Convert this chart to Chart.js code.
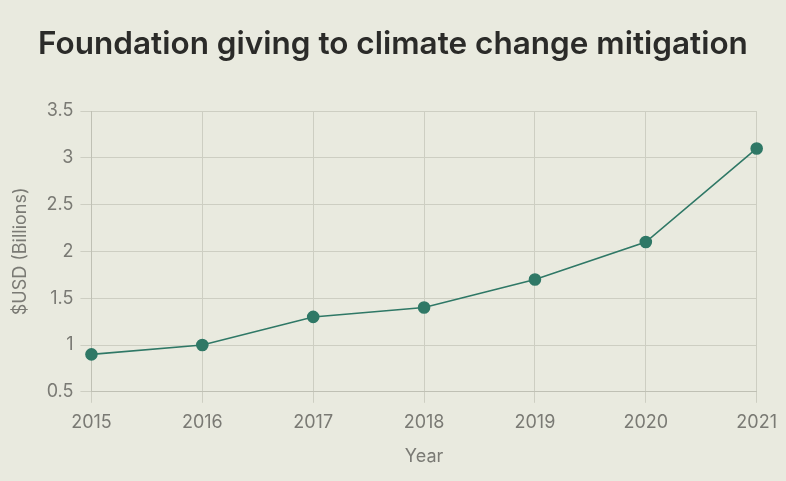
<!DOCTYPE html>
<html>
<head>
<meta charset="utf-8">
<script src="https://cdn.jsdelivr.net/npm/chart.js@4"></script>
<style>
  html, body { margin: 0; padding: 0; background: #e9eadf; }
  #wrap { position: relative; width: 786px; height: 481px; }
  #title {
    position: absolute; left: 0; top: 24px; width: 786px; margin: 0;
    text-align: center; font-family: 'Inter', sans-serif; font-weight: 600;
    font-size: 31.5px; line-height: 38px; color: #2b2b29;
  }
</style>
</head>
<body>
<div id="wrap">
  <h1 id="title">Foundation giving to climate change mitigation</h1>
  <canvas id="chart"></canvas>
</div>
<script>
// values
const years = ['2015', '2016', '2017', '2018', '2019', '2020', '2021'];
const giving = [0.9, 1.0, 1.3, 1.4, 1.7, 2.1, 3.1];
const yTicks = [0.5, 1, 1.5, 2, 2.5, 3, 3.5];

const green = '#2f7866';
const gridColor = '#cdcec2';
const tickColor = '#7a7a74';
const axisFont = { family: 'Inter', size: 18 };

new Chart(document.getElementById('chart'), {
    type: 'line',
    data: {
        labels: years,
        datasets: [{
            label: 'Foundation giving',
            data: giving,
            borderColor: green,
            backgroundColor: green,
            borderWidth: 1.6,
            pointRadius: 5.5,
            pointHoverRadius: 5.5,
            tension: 0
        }]
    },
    options: {
        responsive: true,
        maintainAspectRatio: false,
        animation: false,
        // top padding leaves room for the html title above
        layout: { padding: { left: 6, right: 23, top: 111, bottom: 10 } },
        plugins: {
            legend: { display: false },
            tooltip: { enabled: false },
            title: { display: false }
        },
        scales: {
            x: {
                grid: { color: gridColor, tickLength: 11, lineWidth: 1 },
                border: { color: '#bfc0b4' },
                ticks: { color: tickColor, font: axisFont, padding: 9 },
                title: {
                    display: true,
                    text: 'Year',
                    color: tickColor,
                    font: axisFont,
                    padding: { top: 3 }
                }
            },
            y: {
                min: 0.5,
                max: 3.5,
                afterBuildTicks: axis => { axis.ticks = yTicks.map(v => ({ value: v })); },
                grid: { color: gridColor, tickLength: 11, lineWidth: 1 },
                border: { color: '#bfc0b4' },
                ticks: {
                    color: tickColor,
                    font: axisFont,
                    padding: 7,
                    callback: v => String(v)
                },
                title: {
                    display: true,
                    text: '$USD (Billions)',
                    color: tickColor,
                    font: axisFont,
                    padding: { bottom: 8 }
                }
            }
        }
    }
});
</script>
</body>
</html>
